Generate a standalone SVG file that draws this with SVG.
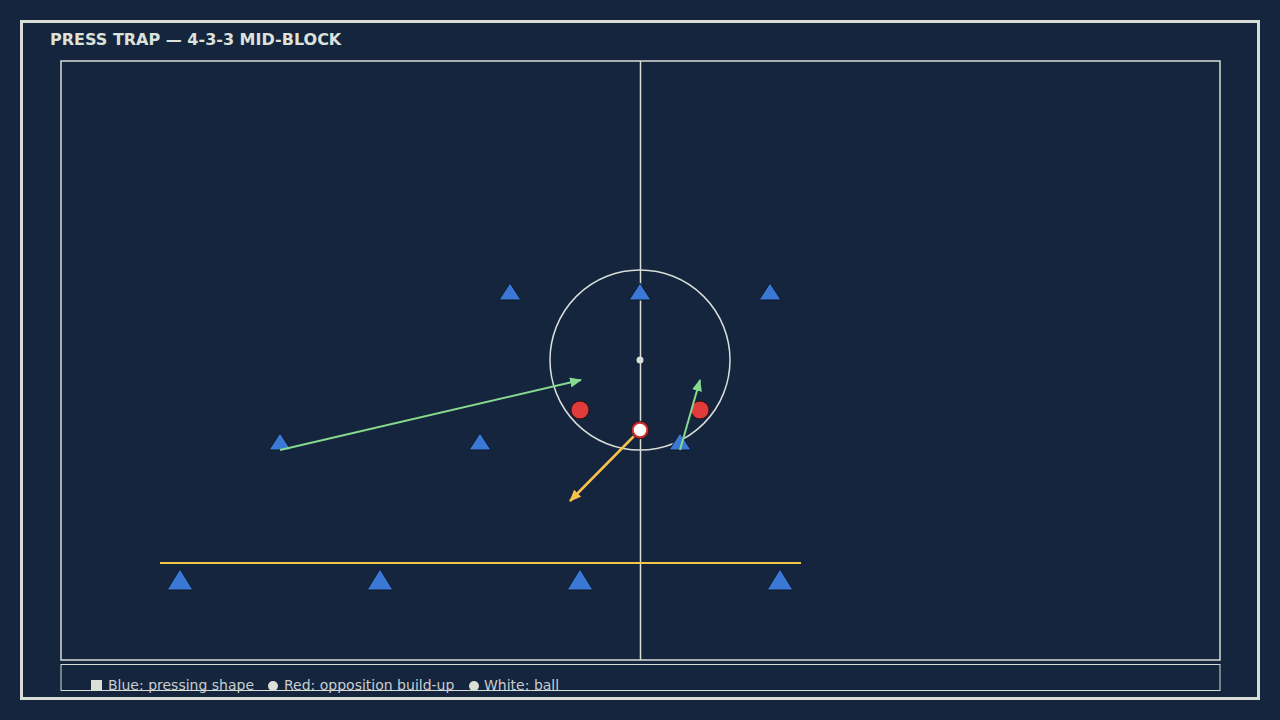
<svg xmlns="http://www.w3.org/2000/svg" width="1280" height="720" viewBox="0 0 1280 720">
<defs>
<style>
.line{fill:none;stroke:#d9ddd8}
.blue{fill:#3b78d6;stroke:#0c1828;stroke-width:1}
.red{fill:#e03b3b;stroke:#3a0d10;stroke-width:1}
.lg{font-family:"DejaVu Sans",sans-serif;font-size:14px;fill:#c9cdd0}
</style>
<marker id="ag" viewBox="0 0 12 10" refX="11" refY="5" markerWidth="12" markerHeight="10" markerUnits="userSpaceOnUse" orient="auto"><path d="M0,0 L12,5 L0,10 Z" fill="#86d98f"/></marker>
<marker id="ay" viewBox="0 0 12 10" refX="11" refY="5" markerWidth="12" markerHeight="10" markerUnits="userSpaceOnUse" orient="auto"><path d="M0,0 L12,5 L0,10 Z" fill="#f6c24c"/></marker>
</defs>
<rect width="1280" height="720" fill="#14253d"/>
<rect x="21.5" y="21.5" width="1237" height="677" class="line" stroke-width="3"/>
<text x="50" y="45" font-family="DejaVu Sans,sans-serif" font-weight="bold" font-size="16" fill="#dde1dc">PRESS TRAP — 4-3-3 MID-BLOCK</text>
<g id="pitch">
<rect x="61" y="61" width="1159" height="599" class="line" stroke-width="1.5"/>
<line x1="640.5" y1="61" x2="640.5" y2="660" class="line" stroke-width="1.5"/>
<circle cx="640" cy="360" r="90" class="line" stroke-width="1.5"/>
<circle cx="640" cy="360" r="3.5" fill="#d9ddd8"/>
</g>
<g id="legend">
<rect x="61" y="664.5" width="1159" height="26" class="line" stroke-width="1"/>
<rect x="91" y="680" width="11" height="11" fill="#dcdfd6"/>
<text x="108" y="690" class="lg">Blue: pressing shape</text>
<circle cx="273" cy="686" r="5" fill="#dcdfd6"/>
<text x="284" y="690" class="lg">Red: opposition build-up</text>
<circle cx="474" cy="686" r="5" fill="#dcdfd6"/>
<text x="484" y="690" class="lg">White: ball</text>
</g>
<g id="trap-line"><line x1="160" y1="563" x2="801" y2="563" stroke="#f2c44a" stroke-width="2"/></g>
<g id="forwards">
<path id="f1" class="blue" d="M510,283 L521,300 L499,300 Z"/>
<path id="f2" class="blue" d="M640,283 L651,300 L629,300 Z"/>
<path id="f3" class="blue" d="M770,283 L781,300 L759,300 Z"/>
</g>
<g id="midfield">
<path id="m1" class="blue" d="M280,433 L291,450 L269,450 Z"/>
<path id="m2" class="blue" d="M480,433 L491,450 L469,450 Z"/>
<path id="m3" class="blue" d="M680,433 L691,450 L669,450 Z"/>
</g>
<g id="defence">
<path id="d1" class="blue" d="M180,569 L193,590 L167,590 Z"/>
<path id="d2" class="blue" d="M380,569 L393,590 L367,590 Z"/>
<path id="d3" class="blue" d="M580,569 L593,590 L567,590 Z"/>
<path id="d4" class="blue" d="M780,569 L793,590 L767,590 Z"/>
</g>
<g id="opposition">
<circle id="o1" cx="580" cy="410" r="9" class="red"/>
<circle id="o2" cx="700" cy="410" r="9" class="red"/>
</g>
<g id="connectors">
<line x1="280" y1="450" x2="581" y2="380" stroke="#86d98f" stroke-width="2" marker-end="url(#ag)"/>
<line x1="680" y1="450" x2="700" y2="380" stroke="#86d98f" stroke-width="2" marker-end="url(#ag)"/>
<line x1="640" y1="430" x2="570" y2="501" stroke="#f6c24c" stroke-width="2.5" marker-end="url(#ay)"/>
</g>
<g id="ball">
<circle cx="640" cy="430" r="7.5" fill="#fff" stroke="#c8302f" stroke-width="2.5"/>
<circle cx="640" cy="430" r="8.8" fill="none" stroke="#3a0d10" stroke-width="0.8"/>
</g>
</svg>
